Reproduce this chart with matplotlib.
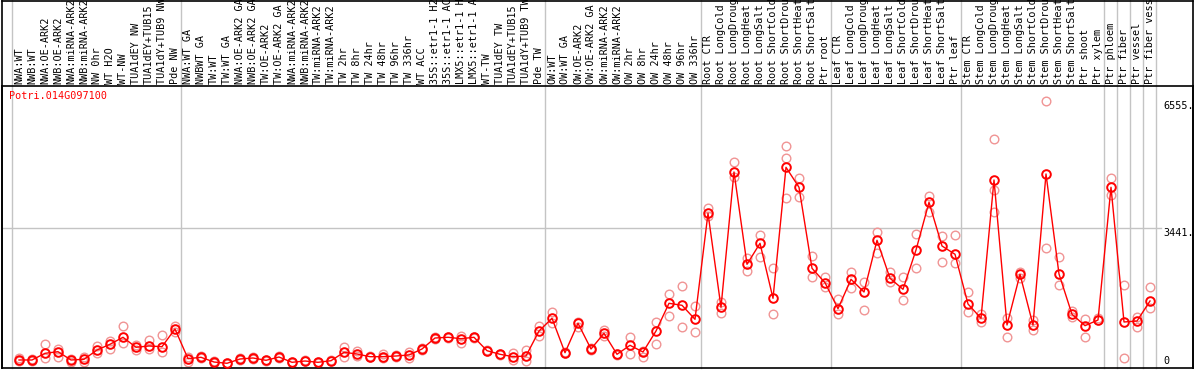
import numpy as np
import matplotlib
matplotlib.use("Agg")
import matplotlib.pyplot as plt
from matplotlib.lines import Line2D

W, H = 1194, 370

title = "Potri.014G097100"

labels = [
    "NWA:WT", "NWB:WT", "NWA:OE-ARK2", "NWB:OE-ARK2", "NWA:miRNA-ARK2", "NWB:miRNA-ARK2",
    "NW 0hr", "WT H2O", "WT-NW", "TUA1dEY NW", "TUA1dEY+TUB15", "TUA1dY+TUB9 NW", "Pde NW",
    "NWA:WT GA", "NWBWT GA", "TW:WT", "TW:WT GA", "NWA:OE-ARK2 GA", "NWB:OE-ARK2 GA",
    "TW:OE-ARK2", "TW:OE-ARK2 GA", "NWA:miRNA-ARK2", "NWB:miRNA-ARK2", "TW:miRNA-ARK2",
    "TW:miRNA-ARK2", "TW 2hr", "TW 8hr", "TW 24hr", "TW 48hr", "TW 96hr", "TW 336hr",
    "WT ACC", "35S::etr1-1 H2", "35S::etr1-1 AC", "LMX5::etr1-1 H", "LMX5::etr1-1 A",
    "WT-TW", "TUA1dEY TW", "TUA1dEY+TUB15", "TUA1dY+TUB9 TW", "Pde TW",
    "OW:WT", "OW:WT GA", "OW:OE-ARK2", "OW:OE-ARK2 GA", "OW:miRNA-ARK2", "OW:miRNA-ARK2",
    "OW 2hr", "OW 8hr", "OW 24hr", "OW 48hr", "OW 96hr", "OW 336hr",
    "Root CTR", "Root LongCold", "Root LongDroug", "Root LongHeat", "Root LongSalt",
    "Root ShortCold", "Root ShortDrou", "Root ShortHeat", "Root ShortSalt", "Ptr root",
    "Leaf CTR", "Leaf LongCold", "Leaf LongDroug", "Leaf LongHeat", "Leaf LongSalt",
    "Leaf ShortCold", "Leaf ShortDrou", "Leaf ShortHeat", "Leaf ShortSalt", "Ptr leaf",
    "Stem CTR", "Stem LongCold", "Stem LongDroug", "Stem LongHeat", "Stem LongSalt",
    "Stem ShortCold", "Stem ShortDrou", "Stem ShortHeat", "Stem ShortSalt", "Ptr shoot",
    "Ptr xylem", "Ptr phloem", "Ptr fiber", "Ptr vessel", "Ptr fiber vess",
]

mean_expr = [
    197, 197, 361, 401, 197, 214, 442, 583, 755, 509, 541, 524, 959,
    229, 263, 147, 116, 221, 246, 189, 270, 140, 172, 140, 179, 386, 344, 278, 278, 295,
    320, 467, 737, 755, 720, 755, 425, 337, 278, 295, 909,
    1222, 376, 1099, 467, 853, 337, 558, 393, 909, 1590, 1541, 1197,
    3803, 1492, 4818, 2549, 3065, 1713, 4933, 4442, 2451, 2097,
    1458, 2180, 1868, 3139, 2205, 1934, 2900, 4073, 2999, 2795,
    1573, 1222, 4621, 1057, 2303, 1057, 4769, 2311, 1320, 1040, 1180,
    4442, 1131, 1155, 1647,
]

rep_a = [
    238, 221, 583, 467, 147, 278, 541, 671, 1025, 565, 688, 804, 1032,
    155, 290, 160, 130, 240, 260, 200, 285, 150, 185, 150, 195, 509, 425, 295, 337, 310,
    401, 480, 760, 770, 622, 770, 440, 350, 197, 442, 1032,
    1384, 390, 1015, 480, 934, 350, 755, 263, 1138, 1811, 2016, 1524,
    3925, 1630, 5063, 2696, 3269, 2465, 5457, 4663, 2753, 2244,
    1689, 2367, 2121, 3350, 2367, 2229, 3286, 4235, 3245, 3269,
    1861, 1138, 5621, 1222, 2367, 1180, 6555, 2736, 1408, 1204, 1180,
    4663, 2040, 1261, 1984,
]

rep_b = [
    172, 172, 238, 278, 221, 155, 361, 474, 622, 442, 474, 386, 892,
    278, 240, 130, 100, 205, 230, 175, 255, 130, 160, 130, 165, 278, 300, 260, 250, 280,
    238, 450, 715, 740, 787, 740, 410, 320, 361, 172, 787,
    1113, 360, 1138, 450, 787, 320, 337, 420, 590, 1278, 1000, 885,
    3736, 1345, 4702, 2392, 2736, 1320, 5154, 4211, 2229, 1990,
    1320, 1959, 1426, 2819, 2121, 1671, 2465, 3827, 2598, 2574,
    1384, 1327, 4375, 755, 2212, 934, 2942, 2040, 1254, 755, 1229,
    4252, 238, 1015, 1467,
]

rep_c = [np.nan] * 88
rep_c[59] = 4171
rep_c[75] = 3842

group_starts = [0, 13, 41, 53, 63, 73, 84, 85, 86, 87, 88]

y_ticks = [0, 3441, 6555]
y_tick_labels = ["0", "3441.", "6555."]

# ---------------------------------------------------------------
RED = "#ff0000"
PINK = "#f09494"
GRAY = "#c4c4c4"

fig = plt.figure(figsize=(W / 100, H / 100), dpi=100)
fig.patch.set_facecolor("white")

ax_left, ax_right = 1.5, 1192.5
ax_top, ax_bot = 86, 368
ax = fig.add_axes([ax_left / W, 1 - ax_bot / H, (ax_right - ax_left) / W, (ax_bot - ax_top) / H])

x = np.arange(len(labels))
# pixel: 19 + 13*i
ax.set_xlim((ax_left - 19) / 13, (ax_right - 19) / 13)
ymax = 6555 * (ax_bot - ax_top) / (ax_bot - 101.3)
ax.set_ylim(0, ymax)

for s in ax.spines.values():
    s.set_color("black")
    s.set_linewidth(1.2)
ax.set_xticks([])
ax.set_yticks([])

# horizontal grid line at 3441 up to the label
ax.plot([ax.get_xlim()[0], (1161 - 19) / 13], [y_ticks[1], y_ticks[1]], color=GRAY, lw=1, zorder=1)

# group separator lines spanning whole height
for g in group_starts:
    xv = g - 7.5 / 13
    ax.plot([xv, xv], [0, ymax * (ax_bot - 0) / (ax_bot - ax_top)], color=GRAY, lw=1,
            clip_on=False, zorder=1)

ms = 6.2
for reps in (rep_a, rep_b, rep_c):
    ax.plot(x, reps, ls="none", marker="o", ms=ms, mfc="none", mec=PINK, mew=1.0, zorder=2)
ax.plot(x, mean_expr, color=RED, lw=1.0, zorder=3)
ax.plot(x, mean_expr, ls="none", marker="o", ms=ms, mfc="none", mec=RED, mew=1.4, zorder=4)

mono = "DejaVu Sans Mono"
fs = 7.3
trans_lab = ax.get_xaxis_transform()
lab_y = 1 + (ax_top - 83.5) / (ax_bot - ax_top)
for i, lab in enumerate(labels):
    ax.text(i, lab_y, lab, rotation=90, ha="center", va="bottom", family=mono,
            fontsize=fs, color="black", transform=trans_lab, clip_on=False)

# y tick labels on the right
xt = (1163 - 19) / 13
ax.text(xt, y_ticks[2], y_tick_labels[2], ha="left", va="top", family=mono, fontsize=fs)
ax.text(xt, y_ticks[1], y_tick_labels[1], ha="left", va="top", family=mono, fontsize=fs)
ax.text(xt, y_ticks[0] + 60, y_tick_labels[0], ha="left", va="bottom", family=mono, fontsize=fs)

fig.text(9 / W, 1 - 91 / H, title, ha="left", va="top", family=mono, fontsize=fs, color=RED)

# outer frame lines (top and sides of the label area)
for (x0, y0, x1, y1) in [(1.5, 0.5, 1192.5, 0.5), (1.5, 0.5, 1.5, 368), (1192.5, 0.5, 1192.5, 368)]:
    fig.add_artist(Line2D([x0 / W, x1 / W], [1 - y0 / H, 1 - y1 / H], color="black", lw=1.2))

fig.savefig("out.png", dpi=100)
